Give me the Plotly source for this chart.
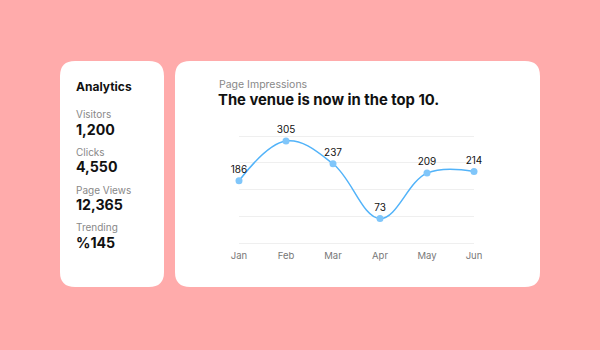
import plotly.graph_objects as go

months = ["Jan", "Feb", "Mar", "Apr", "May", "Jun"]
impressions = [186, 305, 237, 73, 209, 214]
y_ticks = [0, 80, 160, 240, 320]

stat_labels = ["Visitors", "Clicks", "Page Views", "Trending"]
stat_values = ["1,200", "4,550", "12,365", "%145"]

W, H = 600, 350
L, R, T, B = 239, 126, 133, 104
PW, PH = W - L - R, H - T - B
FONT = "Inter"
K = 107 / 320  # px per data unit
Y_RANGE = [-(350 - B - 243) / K, 320 + (136 - T) / K]


def px(x):
    return (x - L) / PW


def py(y):
    return 1 - (y - T) / PH


def rounded_rect(x0, y0, x1, y1, r):
    rx, ry = r / PW, r / PH
    a, b, c, d = px(x0), py(y1), px(x1), py(y0)
    return (f"M {a+rx},{d} L {c-rx},{d} Q {c},{d} {c},{d-ry} "
            f"L {c},{b+ry} Q {c},{b} {c-rx},{b} L {a+rx},{b} "
            f"Q {a},{b} {a},{b+ry} L {a},{d-ry} Q {a},{d} {a+rx},{d} Z")


fig = go.Figure()
fig.add_trace(go.Scatter(
    x=months, y=impressions, mode="lines+markers+text",
    line=dict(color="#52b3f9", width=1.5, shape="spline", smoothing=1.1),
    marker=dict(color="#80c6fa", size=7),
    text=[str(v) for v in impressions], textposition="top center",
    textfont=dict(family=FONT, size=10, color="#111"),
    cliponaxis=False, hoverinfo="skip",
))

shapes = [
    dict(type="path", xref="paper", yref="paper", path=rounded_rect(60, 61, 164, 287, 15),
         fillcolor="white", line=dict(width=0), layer="below"),
    dict(type="path", xref="paper", yref="paper", path=rounded_rect(175, 61, 540, 287, 15),
         fillcolor="white", line=dict(width=0), layer="below"),
]

ann = [
    dict(text="Page Impressions", x=px(217), y=py(84), font=dict(size=10.5, color="#888")),
    dict(text="<b>The venue is now in the top 10.</b>", x=px(216), y=py(100),
         font=dict(size=14.8, color="#111")),
    dict(text="<b>Analytics</b>", x=px(74), y=py(86), font=dict(size=12, color="#111")),
]
for i, (lab, val) in enumerate(zip(stat_labels, stat_values)):
    y0 = 114.3 + i * 37.6
    ann.append(dict(text=lab, x=px(74), y=py(y0), font=dict(size=10, color="#888")))
    ann.append(dict(text=f"<b>{val}</b>", x=px(74), y=py(y0 + 15), font=dict(size=14.2, color="#111")))
for a in ann:
    a.update(xref="paper", yref="paper", xanchor="left", yanchor="middle", showarrow=False)
    a["font"]["family"] = FONT

fig.update_layout(
    width=W, height=H, margin=dict(l=L, r=R, t=T, b=B),
    paper_bgcolor="#ffabab", plot_bgcolor="rgba(0,0,0,0)",
    showlegend=False, shapes=shapes, annotations=ann,
    font=dict(family=FONT),
)
fig.update_xaxes(range=[0, 5], showgrid=False, zeroline=False, showline=False,
                 ticks="", ticklabelstandoff=2,
                 tickfont=dict(family=FONT, size=9.5, color="#777"), fixedrange=True)
fig.update_yaxes(range=Y_RANGE, tickvals=y_ticks, showticklabels=False,
                 showgrid=True, gridcolor="#efefef", gridwidth=1, zeroline=False,
                 showline=False, fixedrange=True)

fig.write_html("out.html", config={"displayModeBar": False})
